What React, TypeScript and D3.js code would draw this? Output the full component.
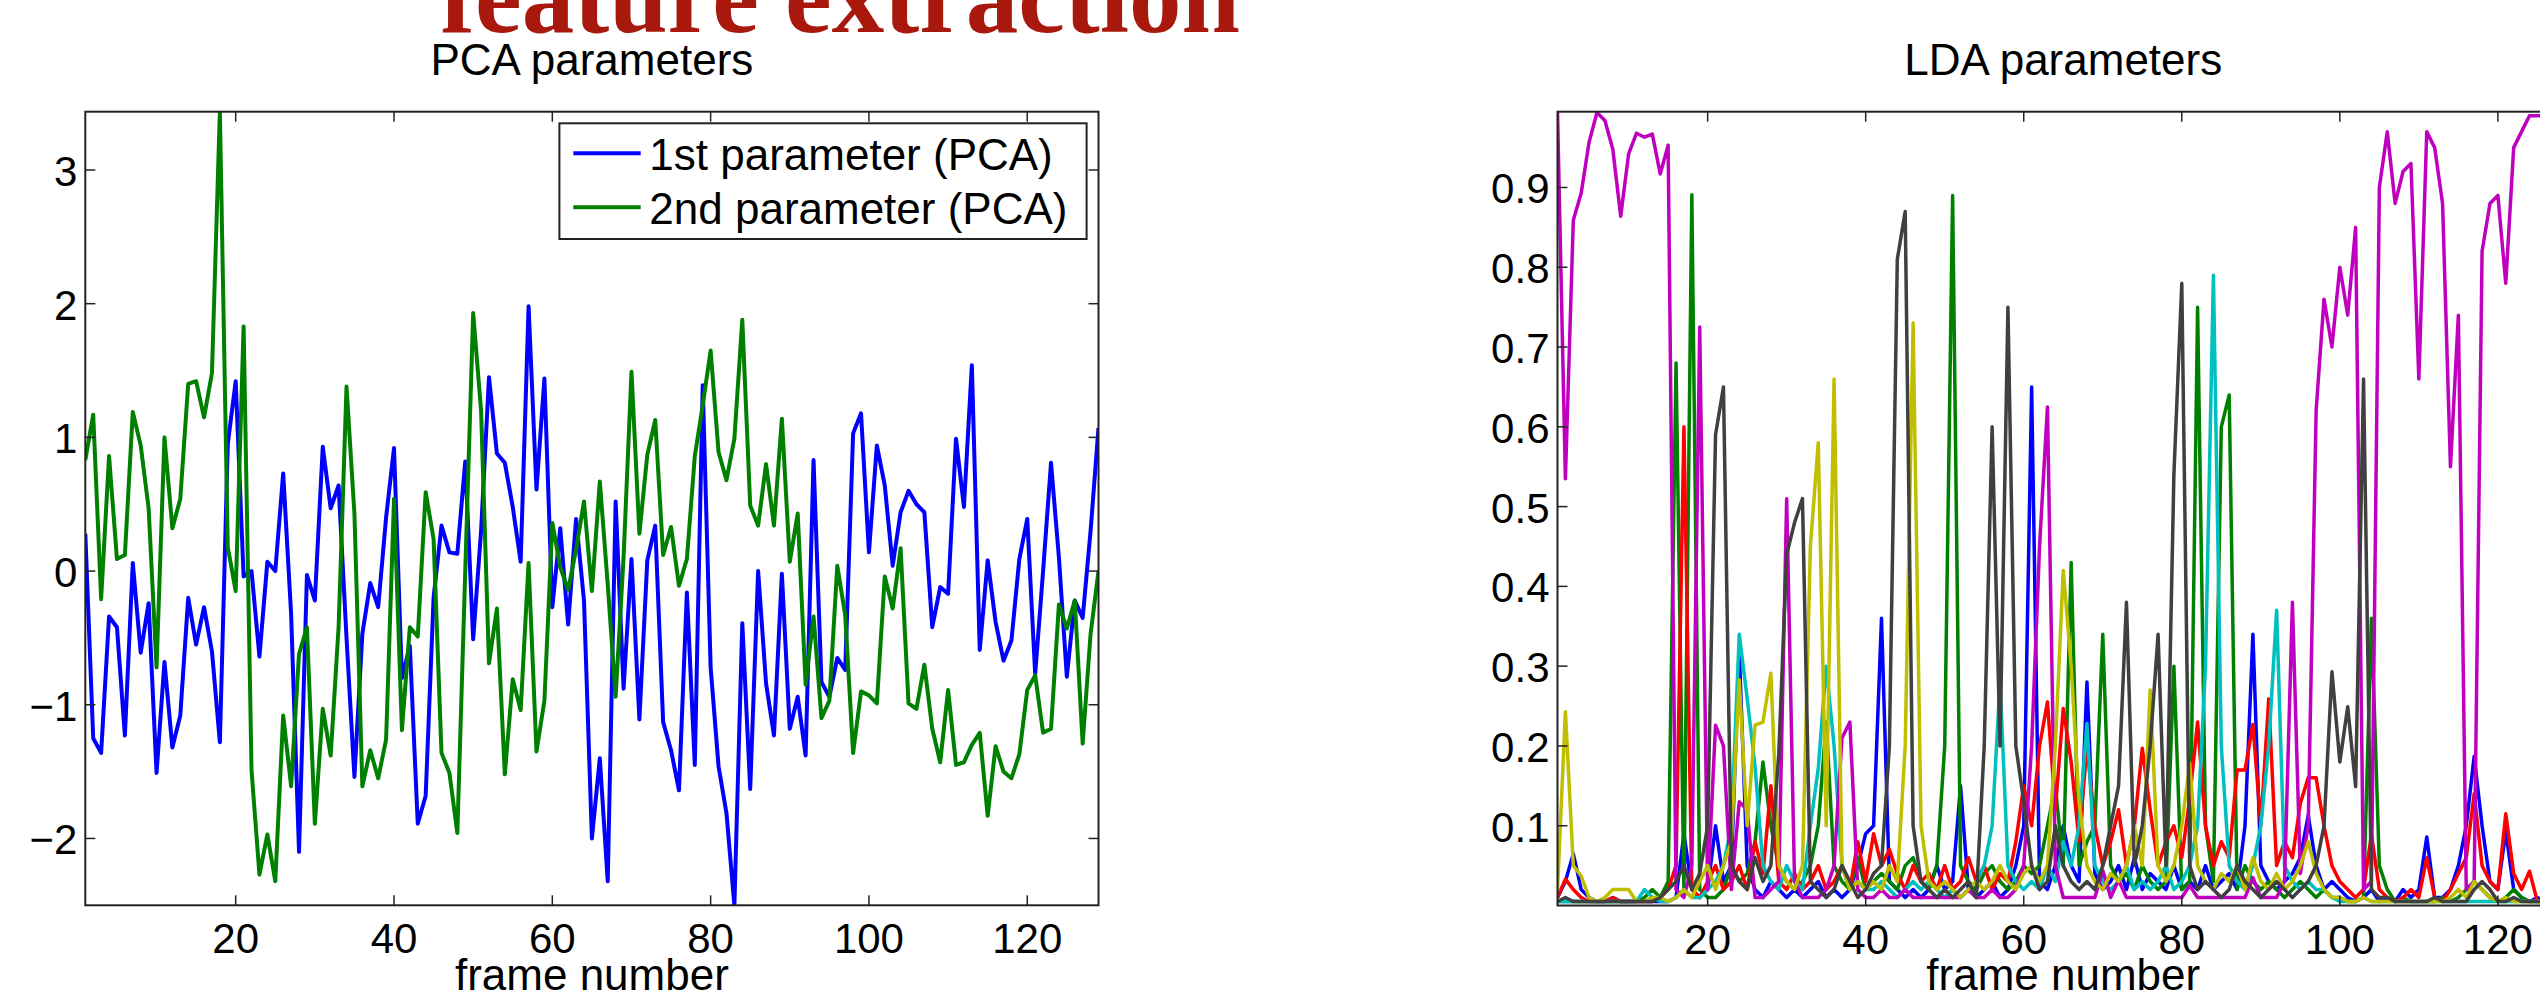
import React from 'react';
import * as d3 from 'd3';

const W = 2540;
const H = 993;

const frameNumbers: number[] = d3.range(1, 130);
const xTicks = [20, 40, 60, 80, 100, 120];
const pcaYTicks = [-2, -1, 0, 1, 2, 3];
const ldaYTicks = [0.1, 0.2, 0.3, 0.4, 0.5, 0.6, 0.7, 0.8, 0.9];

const pcaTitle = 'PCA parameters';
const ldaTitle = 'LDA parameters';
const xLabel = 'frame number';
const slideTitle = 'feature extraction';
const legendLabels = ['1st parameter (PCA)', '2nd parameter (PCA)'];

// 1st PCA parameter (blue)
const pca1 = [
  0.28, -1.25, -1.36, -0.34, -0.42, -1.23, 0.06, -0.61, -0.24, -1.51,
  -0.68, -1.32, -1.08, -0.20, -0.55, -0.27, -0.60, -1.28, 0.95, 1.42,
  -0.04, 0.0, -0.64, 0.07, 0.0, 0.73, -0.32, -2.10, -0.03, -0.22,
  0.93, 0.47, 0.64, -0.50, -1.54, -0.47, -0.09, -0.27, 0.40, 0.92,
  -0.80, -0.56, -1.89, -1.68, -0.20, 0.34, 0.14, 0.13, 0.82, -0.51,
  0.30, 1.45, 0.88, 0.81, 0.48, 0.07, 1.98, 0.61, 1.44, -0.27,
  0.32, -0.40, 0.39, -0.22, -2.00, -1.40, -2.32, 0.52, -0.88, 0.09,
  -1.11, 0.08, 0.34, -1.13, -1.34, -1.64, -0.16, -1.45, 1.39, -0.72,
  -1.46, -1.81, -2.50, -0.39, -1.63, 0.0, -0.84, -1.23, -0.02, -1.18,
  -0.94, -1.38, 0.83, -0.83, -0.94, -0.65, -0.74, 1.03, 1.18, 0.14,
  0.94, 0.64, 0.04, 0.44, 0.60, 0.50, 0.44, -0.42, -0.12, -0.17,
  0.99, 0.48, 1.54, -0.59, 0.08, -0.38, -0.67, -0.52, 0.09, 0.39,
  -0.77, 0.0, 0.81, 0.10, -0.79, -0.22, -0.35, 0.30, 1.07,
];

// 2nd PCA parameter (green)
const pca2 = [
  0.83, 1.17, -0.21, 0.86, 0.09, 0.12, 1.19, 0.94, 0.47, -0.72,
  1.00, 0.32, 0.54, 1.40, 1.42, 1.15, 1.48, 3.44, 0.18, -0.15,
  1.83, -1.49, -2.27, -1.97, -2.32, -1.08, -1.61, -0.62, -0.42, -1.89,
  -1.03, -1.38, -0.42, 1.38, 0.43, -1.61, -1.34, -1.55, -1.26, 0.54,
  -1.19, -0.42, -0.49, 0.59, 0.24, -1.36, -1.51, -1.96, 0.0, 1.93,
  1.20, -0.69, -0.28, -1.52, -0.81, -1.04, 0.06, -1.35, -0.97, 0.36,
  0.03, -0.14, 0.16, 0.52, -0.15, 0.67, -0.10, -0.94, 0.10, 1.49,
  0.28, 0.87, 1.13, 0.12, 0.33, -0.11, 0.09, 0.86, 1.24, 1.65,
  0.89, 0.68, 0.99, 1.88, 0.49, 0.34, 0.80, 0.34, 1.14, 0.07,
  0.43, -0.85, -0.34, -1.10, -0.97, 0.04, -0.33, -1.36, -0.90, -0.93,
  -0.99, -0.04, -0.28, 0.17, -0.99, -1.03, -0.70, -1.18, -1.43, -0.89,
  -1.45, -1.43, -1.30, -1.21, -1.83, -1.31, -1.50, -1.55, -1.37, -0.89,
  -0.78, -1.21, -1.18, -0.25, -0.43, -0.22, -1.29, -0.47, 0.0,
];

// LDA class posteriors
const ldaBlue = [
  0.01, 0.03, 0.065, 0.02, 0.01, 0.005, 0.005, 0.01, 0.005, 0.005,
  0.005, 0.005, 0.005, 0.005, 0.005, 0.01, 0.09, 0.02, 0.01, 0.02,
  0.10, 0.03, 0.05, 0.32, 0.05, 0.02, 0.01, 0.03, 0.02, 0.01,
  0.02, 0.01, 0.02, 0.03, 0.01, 0.02, 0.01, 0.02, 0.05, 0.09,
  0.10, 0.36, 0.03, 0.02, 0.01, 0.02, 0.01, 0.02, 0.05, 0.02,
  0.03, 0.15, 0.02, 0.01, 0.02, 0.03, 0.01, 0.02, 0.05, 0.10,
  0.65, 0.03, 0.02, 0.05, 0.10, 0.05, 0.03, 0.28, 0.04, 0.02,
  0.03, 0.05, 0.02, 0.06, 0.02, 0.04, 0.03, 0.02, 0.05, 0.02,
  0.03, 0.02, 0.05, 0.02, 0.03, 0.04, 0.02, 0.10, 0.34, 0.05,
  0.03, 0.02, 0.03, 0.04, 0.06, 0.113, 0.05, 0.02, 0.03, 0.02,
  0.01, 0.005, 0.01, 0.02, 0.005, 0.01, 0.005, 0.02, 0.01, 0.02,
  0.086, 0.01, 0.01, 0.02, 0.05, 0.10, 0.187, 0.10, 0.03, 0.02,
  0.093, 0.02, 0.01, 0.005, 0.01, 0.005, 0.005, 0.005, 0.005,
];
const ldaGreen = [
  0.005, 0.005, 0.005, 0.005, 0.005, 0.005, 0.005, 0.005, 0.005, 0.005,
  0.005, 0.01, 0.02, 0.01, 0.03, 0.68, 0.02, 0.891, 0.02, 0.01,
  0.01, 0.02, 0.05, 0.03, 0.04, 0.08, 0.18, 0.10, 0.05, 0.03,
  0.02, 0.03, 0.05, 0.10, 0.23, 0.05, 0.03, 0.02, 0.06, 0.02,
  0.03, 0.04, 0.03, 0.02, 0.05, 0.06, 0.03, 0.02, 0.05, 0.20,
  0.89, 0.05, 0.03, 0.02, 0.04, 0.05, 0.03, 0.02, 0.03, 0.05,
  0.04, 0.05, 0.10, 0.15, 0.05, 0.43, 0.05, 0.08, 0.10, 0.34,
  0.05, 0.03, 0.04, 0.02, 0.05, 0.03, 0.02, 0.03, 0.30, 0.02,
  0.03, 0.75, 0.10, 0.03, 0.60, 0.64, 0.02, 0.05, 0.03, 0.02,
  0.03, 0.02, 0.01, 0.02, 0.03, 0.02, 0.01, 0.02, 0.01, 0.01,
  0.005, 0.005, 0.01, 0.36, 0.05, 0.02, 0.005, 0.01, 0.005, 0.005,
  0.005, 0.005, 0.01, 0.005, 0.01, 0.02, 0.03, 0.02, 0.01, 0.005,
  0.01, 0.02, 0.01, 0.005, 0.005, 0.005, 0.005, 0.005, 0.005,
];
const ldaRed = [
  0.01, 0.033, 0.02, 0.01, 0.005, 0.005, 0.005, 0.01, 0.005, 0.005,
  0.005, 0.005, 0.005, 0.01, 0.02, 0.05, 0.60, 0.02, 0.01, 0.03,
  0.05, 0.02, 0.03, 0.05, 0.02, 0.08, 0.04, 0.15, 0.03, 0.02,
  0.04, 0.02, 0.03, 0.05, 0.02, 0.03, 0.05, 0.02, 0.08, 0.03,
  0.09, 0.05, 0.07, 0.04, 0.02, 0.05, 0.03, 0.04, 0.02, 0.05,
  0.02, 0.03, 0.06, 0.03, 0.05, 0.02, 0.04, 0.03, 0.08, 0.15,
  0.10, 0.20, 0.255, 0.12, 0.247, 0.18, 0.08, 0.20, 0.10, 0.05,
  0.08, 0.12, 0.05, 0.10, 0.197, 0.12, 0.05, 0.08, 0.10, 0.06,
  0.134, 0.23, 0.10, 0.05, 0.08, 0.06, 0.17, 0.17, 0.227, 0.10,
  0.259, 0.05, 0.08, 0.06, 0.128, 0.16, 0.16, 0.10, 0.05, 0.03,
  0.02, 0.01, 0.02, 0.089, 0.02, 0.01, 0.005, 0.01, 0.02, 0.01,
  0.06, 0.01, 0.005, 0.02, 0.04, 0.06, 0.14, 0.05, 0.03, 0.02,
  0.115, 0.04, 0.02, 0.043, 0.005, 0.005, 0.005, 0.005, 0.005,
];
const ldaCyan = [
  0.005, 0.005, 0.005, 0.005, 0.005, 0.005, 0.005, 0.005, 0.005, 0.005,
  0.005, 0.02, 0.01, 0.005, 0.005, 0.01, 0.02, 0.01, 0.01, 0.02,
  0.03, 0.05, 0.10, 0.34, 0.26, 0.174, 0.05, 0.03, 0.02, 0.05,
  0.03, 0.02, 0.10, 0.172, 0.30, 0.20, 0.05, 0.02, 0.03, 0.02,
  0.02, 0.03, 0.02, 0.01, 0.02, 0.03, 0.02, 0.03, 0.02, 0.01,
  0.02, 0.01, 0.02, 0.03, 0.05, 0.10, 0.28, 0.05, 0.03, 0.02,
  0.03, 0.02, 0.05, 0.03, 0.08, 0.05, 0.10, 0.228, 0.05, 0.03,
  0.02, 0.03, 0.05, 0.02, 0.03, 0.02, 0.03, 0.05, 0.02, 0.03,
  0.05, 0.10, 0.30, 0.79, 0.20, 0.05, 0.03, 0.02, 0.05, 0.10,
  0.20, 0.37, 0.05, 0.03, 0.02, 0.03, 0.02, 0.02, 0.01, 0.005,
  0.005, 0.005, 0.01, 0.005, 0.005, 0.005, 0.005, 0.005, 0.005, 0.005,
  0.005, 0.005, 0.005, 0.005, 0.005, 0.005, 0.005, 0.005, 0.005, 0.005,
  0.005, 0.005, 0.005, 0.005, 0.005, 0.005, 0.005, 0.005, 0.005,
];
const ldaMagenta = [
  0.995, 0.535, 0.859, 0.893, 0.957, 0.994, 0.984, 0.948, 0.864, 0.942,
  0.968, 0.963, 0.967, 0.917, 0.953, 0.02, 0.01, 0.05, 0.725, 0.02,
  0.226, 0.20, 0.02, 0.13, 0.12, 0.01, 0.01, 0.02, 0.03, 0.51,
  0.03, 0.01, 0.01, 0.01, 0.02, 0.05, 0.21, 0.23, 0.02, 0.01,
  0.01, 0.02, 0.01, 0.01, 0.02, 0.01, 0.01, 0.01, 0.01, 0.01,
  0.01, 0.01, 0.02, 0.01, 0.01, 0.02, 0.01, 0.01, 0.02, 0.05,
  0.20, 0.45, 0.625, 0.05, 0.01, 0.01, 0.01, 0.01, 0.01, 0.044,
  0.01, 0.032, 0.01, 0.01, 0.01, 0.01, 0.01, 0.01, 0.01, 0.01,
  0.025, 0.01, 0.01, 0.01, 0.01, 0.01, 0.01, 0.01, 0.035, 0.01,
  0.01, 0.01, 0.03, 0.38, 0.04, 0.10, 0.62, 0.76, 0.70, 0.80,
  0.74, 0.85, 0.02, 0.03, 0.90, 0.97, 0.88, 0.92, 0.93, 0.66,
  0.97, 0.95, 0.88, 0.55, 0.74, 0.02, 0.03, 0.82, 0.88, 0.89,
  0.78, 0.95, 0.97, 0.99, 0.99, 0.99, 0.99, 0.99, 0.99,
];
const ldaOlive = [
  0.02, 0.243, 0.05, 0.037, 0.01, 0.005, 0.01, 0.02, 0.02, 0.02,
  0.005, 0.005, 0.01, 0.01, 0.005, 0.01, 0.02, 0.01, 0.03, 0.05,
  0.02, 0.05, 0.08, 0.283, 0.10, 0.226, 0.23, 0.291, 0.05, 0.03,
  0.02, 0.05, 0.45, 0.58, 0.10, 0.66, 0.05, 0.02, 0.03, 0.02,
  0.03, 0.02, 0.05, 0.03, 0.20, 0.73, 0.10, 0.03, 0.02, 0.03,
  0.02, 0.01, 0.02, 0.03, 0.02, 0.03, 0.05, 0.03, 0.02, 0.04,
  0.05, 0.03, 0.05, 0.20, 0.42, 0.30, 0.13, 0.05, 0.03, 0.02,
  0.04, 0.03, 0.05, 0.10, 0.05, 0.27, 0.05, 0.03, 0.05, 0.10,
  0.178, 0.05, 0.03, 0.02, 0.04, 0.03, 0.05, 0.02, 0.06, 0.03,
  0.02, 0.04, 0.02, 0.03, 0.05, 0.08, 0.04, 0.02, 0.01, 0.01,
  0.005, 0.005, 0.01, 0.005, 0.005, 0.005, 0.005, 0.005, 0.005, 0.005,
  0.005, 0.005, 0.005, 0.01, 0.02, 0.01, 0.03, 0.02, 0.01, 0.005,
  0.01, 0.005, 0.005, 0.005, 0.005, 0.005, 0.005, 0.005, 0.005,
];
const ldaGray = [
  0.005, 0.01, 0.005, 0.005, 0.005, 0.005, 0.005, 0.005, 0.005, 0.005,
  0.005, 0.005, 0.005, 0.01, 0.02, 0.03, 0.05, 0.02, 0.04, 0.10,
  0.59, 0.65, 0.05, 0.03, 0.02, 0.06, 0.03, 0.05, 0.19, 0.44,
  0.48, 0.51, 0.03, 0.02, 0.01, 0.02, 0.05, 0.03, 0.01, 0.02,
  0.04, 0.05, 0.20, 0.81, 0.87, 0.10, 0.03, 0.02, 0.01, 0.02,
  0.01, 0.02, 0.03, 0.01, 0.20, 0.60, 0.20, 0.75, 0.20, 0.13,
  0.05, 0.02, 0.03, 0.10, 0.05, 0.03, 0.02, 0.03, 0.02, 0.05,
  0.10, 0.15, 0.38, 0.05, 0.10, 0.20, 0.34, 0.05, 0.54, 0.78,
  0.05, 0.02, 0.03, 0.02, 0.01, 0.02, 0.05, 0.03, 0.02, 0.01,
  0.02, 0.03, 0.02, 0.01, 0.02, 0.03, 0.05, 0.10, 0.293, 0.18,
  0.249, 0.149, 0.66, 0.02, 0.01, 0.01, 0.005, 0.005, 0.005, 0.005,
  0.005, 0.01, 0.005, 0.005, 0.005, 0.005, 0.02, 0.03, 0.02, 0.005,
  0.005, 0.01, 0.005, 0.005, 0.005, 0.005, 0.005, 0.005, 0.005,
];

const ldaSeries = [
  { values: ldaBlue, color: '#0000ff' },
  { values: ldaGreen, color: '#008000' },
  { values: ldaRed, color: '#ff0000' },
  { values: ldaCyan, color: '#00bfbf' },
  { values: ldaMagenta, color: '#bf00bf' },
  { values: ldaOlive, color: '#bfbf00' },
  { values: ldaGray, color: '#404040' },
];

const FONT = '"Liberation Sans", Arial, Helvetica, sans-serif';
const TICK_FS = 42;
const TITLE_FS = 44;

type Scale = d3.ScaleLinear<number, number>;

function Axes({ x, y, yTicks, fmt, title, id, children }: {
  x: Scale; y: Scale; yTicks: number[]; fmt: (v: number) => string; title: string; id: string; children?: React.ReactNode;
}) {
  const [x0, x1] = x.range();
  const [y0, y1] = y.range(); // y0 bottom, y1 top
  const tl = 10;
  const cx = (x0 + x1) / 2;
  return (
    <g>
      <defs>
        <clipPath id={id}>
          <rect x={x0} y={y1} width={x1 - x0} height={y0 - y1} />
        </clipPath>
      </defs>
      <g clipPath={`url(#${id})`}>{children}</g>
      <rect x={x0} y={y1} width={x1 - x0} height={y0 - y1} fill="none" stroke="#222" strokeWidth={2} />
      {xTicks.map((t) => (
        <g key={'xt' + t}>
          <line x1={x(t)} x2={x(t)} y1={y0} y2={y0 - tl} stroke="#222" strokeWidth={1.5} />
          <line x1={x(t)} x2={x(t)} y1={y1} y2={y1 + tl} stroke="#222" strokeWidth={1.5} />
          <text x={x(t)} y={y0 + 48} textAnchor="middle" fontSize={TICK_FS} fontFamily={FONT}>{t}</text>
        </g>
      ))}
      {yTicks.map((t) => (
        <g key={'yt' + t}>
          <line x1={x0} x2={x0 + tl} y1={y(t)} y2={y(t)} stroke="#222" strokeWidth={1.5} />
          <line x1={x1} x2={x1 - tl} y1={y(t)} y2={y(t)} stroke="#222" strokeWidth={1.5} />
          <text x={x0 - 8} y={y(t) + 16} textAnchor="end" fontSize={TICK_FS} fontFamily={FONT}>{fmt(t)}</text>
        </g>
      ))}
      <text x={cx} y={75} textAnchor="middle" fontSize={TITLE_FS} fontFamily={FONT}>{title}</text>
      <text x={cx} y={990} textAnchor="middle" fontSize={TITLE_FS} fontFamily={FONT}>{xLabel}</text>
    </g>
  );
}

export default function App() {
  const pcaX = d3.scaleLinear().domain([1, 129]).range([85.3, 1098.5]);
  const pcaY = d3.scaleLinear().domain([-2.5, 3.436]).range([905.3, 111.7]);
  const ldaX = d3.scaleLinear().domain([1, 129]).range([1557.5, 2569]);
  const ldaY = d3.scaleLinear().domain([0, 0.995]).range([905.5, 111.7]);

  const mkLine = (xs: Scale, ys: Scale) =>
    d3.line<number>().x((_, i) => xs(frameNumbers[i])).y((d) => ys(d));

  const pcaLine = mkLine(pcaX, pcaY);
  const ldaLine = mkLine(ldaX, ldaY);

  const pcaFmt = (v: number) => (v < 0 ? '\u2212' + Math.abs(v) : String(v));
  const ldaFmt = (v: number) => v.toFixed(1);

  return (
    <div style={{ position: 'absolute', left: 0, top: 0, width: W, height: H, overflow: 'hidden', background: '#fff' }}>
      <svg width={W} height={H} style={{ display: 'block' }}>
        <rect width={W} height={H} fill="#fff" />
        <text x={840} y={32} textAnchor="middle" fontSize={105} fontWeight="bold"
          fontFamily='"Liberation Serif", "Times New Roman", serif' fill="#a8180c">{slideTitle}</text>

        <Axes x={pcaX} y={pcaY} yTicks={pcaYTicks} fmt={pcaFmt} title={pcaTitle} id="clipPca">
          <path d={pcaLine(pca1) || ''} fill="none" stroke="#0000ff" strokeWidth={4} strokeLinejoin="round" />
          <path d={pcaLine(pca2) || ''} fill="none" stroke="#008000" strokeWidth={4} strokeLinejoin="round" />
        </Axes>

        {/* legend */}
        <g>
          <rect x={559.4} y={123.3} width={527.2} height={115.7} fill="#fff" stroke="#222" strokeWidth={2} />
          <line x1={573.3} x2={640.7} y1={153.3} y2={153.3} stroke="#0000ff" strokeWidth={4} />
          <line x1={573.3} x2={640.7} y1={207.3} y2={207.3} stroke="#008000" strokeWidth={4} />
          <text x={649.3} y={170} fontSize={TITLE_FS} fontFamily={FONT}>{legendLabels[0]}</text>
          <text x={649.3} y={224} fontSize={TITLE_FS} fontFamily={FONT}>{legendLabels[1]}</text>
        </g>

        <Axes x={ldaX} y={ldaY} yTicks={ldaYTicks} fmt={ldaFmt} title={ldaTitle} id="clipLda">
          {ldaSeries.map((s, i) => (
            <path key={i} d={ldaLine(s.values) || ''} fill="none" stroke={s.color} strokeWidth={3.5} strokeLinejoin="round" />
          ))}
        </Axes>
      </svg>
    </div>
  );
}
